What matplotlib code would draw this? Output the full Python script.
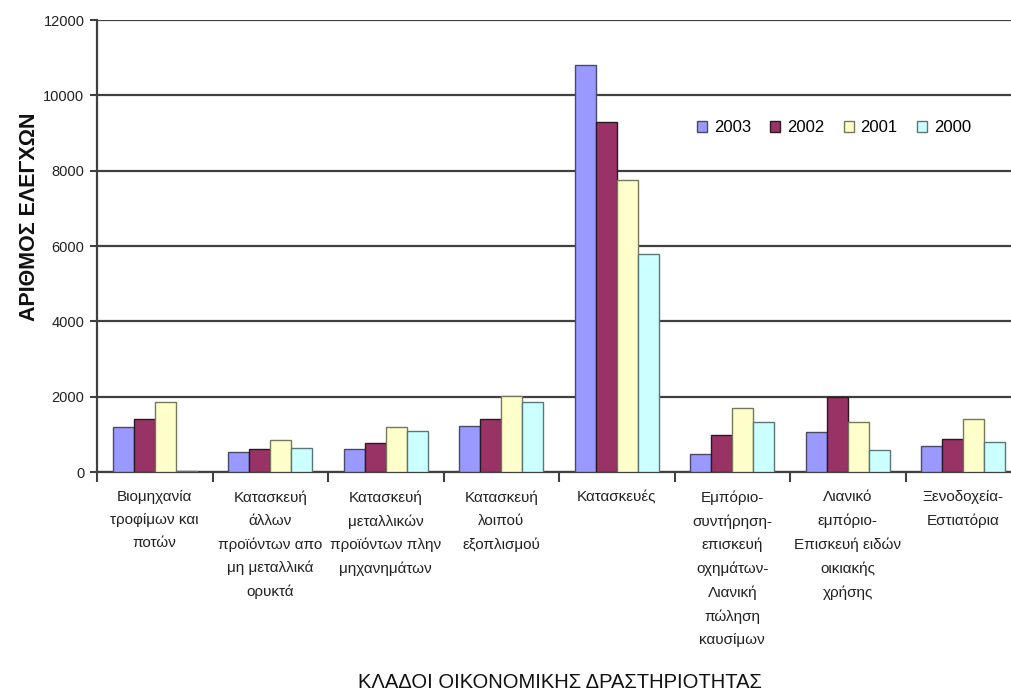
import matplotlib
matplotlib.use("Agg")
import matplotlib.pyplot as plt
import numpy as np
from matplotlib.patches import Patch

plt.rcParams['font.family'] = ['Liberation Sans', 'DejaVu Sans']

categories = [
    "Βιομηχανία\nτροφίμων και\nποτών",
    "Κατασκευή\nάλλων\nπροϊόντων απο\nμη μεταλλικά\nορυκτά",
    "Κατασκευή\nμεταλλικών\nπροϊόντων πλην\nμηχανημάτων",
    "Κατασκευή\nλοιπού\nεξοπλισμού",
    "Κατασκευές",
    "Εμπόριο-\nσυντήρηση-\nεπισκευή\nοχημάτων-\nΛιανική\nπώληση\nκαυσίμων",
    "Λιανικό\nεμπόριο-\nΕπισκευή ειδών\nοικιακής\nχρήσης",
    "Ξενοδοχεία-\nΕστιατόρια",
]
years = ["2003", "2002", "2001", "2000"]
v2003 = [1200, 540, 600, 1230, 10800, 490, 1070, 700]
v2002 = [1410, 610, 760, 1400, 9300, 970, 1980, 870]
v2001 = [1860, 840, 1190, 2020, 7750, 1710, 1340, 1400]
v2000 = [20, 650, 1080, 1860, 5800, 1340, 580, 800]
series = [v2003, v2002, v2001, v2000]
yticks = [0, 2000, 4000, 6000, 8000, 10000, 12000]

faces = ['#9999FF', '#993366', '#FFFFCC', '#CCFFFF']
edges = ['#4a4a66', '#2a1a20', '#77775a', '#5a7777']

W, H = 1011, 697
fig = plt.figure(figsize=(W / 100, H / 100), dpi=100)
x0, x1 = 97, 1021
y0, y1 = 472, 20
ax = fig.add_axes([x0 / W, 1 - y0 / H, (x1 - x0) / W, (y0 - y1) / H])

x = np.arange(len(categories))
bw = 0.182
for i, (vals, fc, ec) in enumerate(zip(series, faces, edges)):
    ax.bar(x + (i - 1.5) * bw, vals, width=bw, color=fc, edgecolor=ec,
           linewidth=1.0, zorder=3)

ax.set_xlim(-0.5, len(categories) - 0.5)
ax.set_ylim(0, 12000)
ax.set_yticks(yticks)
ax.set_yticklabels([str(t) for t in yticks], fontsize=10.5, color='#222222')
ax.yaxis.grid(True, color='#404040', linewidth=1.6, zorder=0)
ax.set_axisbelow(True)

ax.set_xticks(np.arange(-0.5, len(categories), 1.0))
ax.set_xticklabels([])
ax.tick_params(axis='x', direction='out', length=7, width=1.5, color='#404040')
ax.tick_params(axis='y', direction='out', length=5, width=1.5, color='#404040', pad=4)

for s in ['top', 'right']:
    ax.spines[s].set_visible(False)
for s in ['left', 'bottom']:
    ax.spines[s].set_color('#404040')
    ax.spines[s].set_linewidth(1.6)

for xi, lab in zip(x, categories):
    ax.text(xi, -480, lab, ha='center', va='top', fontsize=11, color='#222222',
            linespacing=1.82)

fig.text(30 / W, 1 - 217 / H, "ΑΡΙΘΜΟΣ ΕΛΕΓΧΩΝ", rotation=90, ha='center',
         va='center', fontsize=15.5, fontweight='bold', color='#111111')
fig.text(560 / W, 1 - 683 / H, "ΚΛΑΔΟΙ ΟΙΚΟΝΟΜΙΚΗΣ ΔΡΑΣΤΗΡΙΟΤΗΤΑΣ", ha='center',
         va='center', fontsize=14.5, color='#111111')

handles = [Patch(facecolor=fc, edgecolor=ec, linewidth=1.0) for fc, ec in zip(faces, edges)]
fig.legend(handles, years, loc='center', bbox_to_anchor=(834 / W, 1 - 128 / H),
           ncol=4, frameon=False, fontsize=12, handlelength=0.6, handleheight=0.6,
           handletextpad=0.42, columnspacing=1.14, borderpad=0, borderaxespad=0)

fig.savefig("out.png", dpi=100)
